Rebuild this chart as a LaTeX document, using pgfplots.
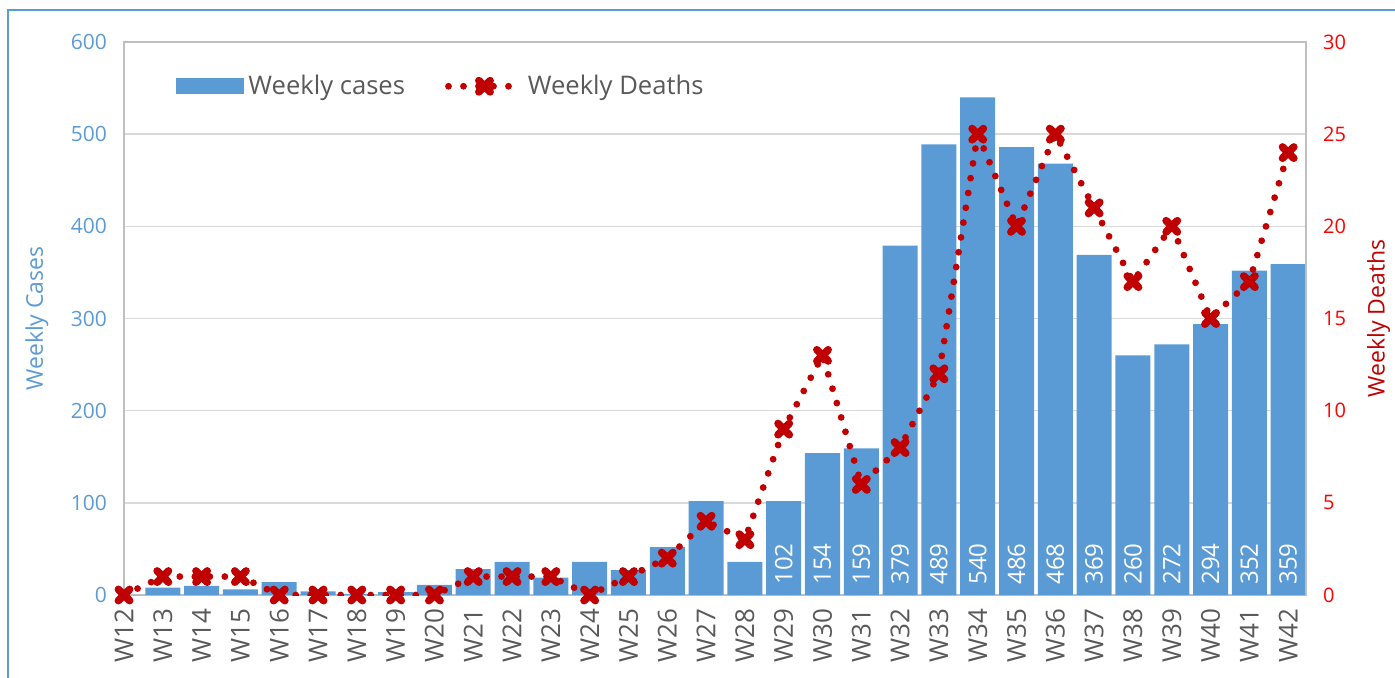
\documentclass[border=0pt]{standalone}
\usepackage{pgfplots}
\pgfplotsset{compat=1.18}
\usepackage{pgfplotstable}
\usepackage{fontspec}
\setmainfont{Open Sans}
\definecolor{barblue}{HTML}{5B9BD5}
\definecolor{deathred}{HTML}{C00000}
\definecolor{txtgray}{HTML}{595959}
\definecolor{gridgray}{HTML}{D9D9D9}
\definecolor{framegray}{HTML}{BFBFBF}

% weekly cases, W12 = 0 ... W42 = 30
\pgfplotstableread{
x y
0 0
1 8
2 10
3 6
4 14
5 4
6 1
7 3
8 11
9 28
10 36
11 19
12 36
13 27
14 52
15 102
16 36
17 102
18 154
19 159
20 379
21 489
22 540
23 486
24 468
25 369
26 260
27 272
28 294
29 352
30 359
}\cases

% labels written inside the bars
\pgfplotstableread{
x y lbl
17 0 102
18 0 154
19 0 159
20 0 379
21 0 489
22 0 540
23 0 486
24 0 468
25 0 369
26 0 260
27 0 272
28 0 294
29 0 352
30 0 359
}\caselabels

% weekly deaths
\pgfplotstableread{
x y
0 0
1 1
2 1
3 1
4 0
5 0
6 0
7 0
8 0
9 1
10 1
11 1
12 0
13 1
14 2
15 4
16 3
17 9
18 13
19 6
20 8
21 12
22 25
23 20
24 25
25 21
26 17
27 20
28 15
29 17
30 24
}\deaths

\tikzset{deathline/.style={deathred, line width=3.4pt, line cap=round, dash pattern=on 0pt off 7.5pt,
  mark=x, mark size=4pt, mark options={solid, line width=3.8pt, line cap=round}}}

\begin{document}
\begin{tikzpicture}
\begin{axis}[
    at={(0,0)}, anchor=south west,
    width=591pt, height=276.5pt, scale only axis,
    xmin=0, xmax=30.46, ymin=0, ymax=600,
    ytick={0,100,...,600},
    xtick={0,...,30},
    xticklabels={W12,W13,W14,W15,W16,W17,W18,W19,W20,W21,W22,W23,W24,W25,W26,W27,W28,W29,W30,W31,W32,W33,W34,W35,W36,W37,W38,W39,W40,W41,W42},
    x tick label style={rotate=90, anchor=east, inner xsep=6.5pt, font=\fontsize{13}{13}\selectfont, text=txtgray},
    y tick label style={font=\fontsize{10.5}{10.5}\selectfont, text=barblue, xshift=-5pt},
    /pgf/number format/assume math mode=true,
    ymajorgrids, grid style={gridgray, line width=0.8pt},
    axis line style={framegray, line width=1pt},
    major tick length=0pt,
    ylabel={Weekly Cases},
    ylabel style={at={(axis description cs:-0.0736,0.5)}, anchor=center, text=barblue, font=\fontsize{11.5}{11.5}\selectfont},
    legend style={at={(rel axis cs:0.039,0.92)}, anchor=west, draw=none, fill=none,
        font=\fontsize{12.8}{12.8}\selectfont, text=txtgray, legend columns=2,
        /tikz/every even column/.append style={column sep=18pt}},
]
\addplot[ybar, bar width=17.5pt, fill=barblue, draw=none,
    legend image code/.code={\fill[barblue] (0pt,-4pt) rectangle (34pt,4pt);}] table[x=x,y=y] {\cases};
\addlegendentry{Weekly cases}
\addlegendimage{deathline, legend image code/.code={\draw[mark repeat=2,mark phase=2] plot coordinates {(0pt,0pt) (18pt,0pt) (36pt,0pt)};}}
\addlegendentry{Weekly Deaths}
\addplot[draw=none, nodes near coords, point meta=explicit symbolic,
    every node near coord/.style={text=white, rotate=90, anchor=west, inner xsep=5pt, font=\fontsize{12}{12}\selectfont}]
    table[x=x,y=y,meta=lbl] {\caselabels};
\end{axis}
\begin{axis}[
    at={(0,0)}, anchor=south west,
    width=591pt, height=276.5pt, scale only axis,
    xmin=0, xmax=30.46, ymin=0, ymax=30,
    ytick={0,5,...,30},
    axis y line*=right, axis x line=none,
    axis line style={framegray, line width=1pt},
    major tick length=0pt,
    y tick label style={font=\fontsize{10}{10}\selectfont, text=red, xshift=5pt},
    /pgf/number format/assume math mode=true,
    ylabel={Weekly Deaths},
    ylabel style={at={(axis description cs:1.0615,0.5)}, anchor=center, text=deathred, font=\fontsize{11.5}{11.5}\selectfont},
]
\addplot[deathline] table[x=x,y=y] {\deaths};
\end{axis}
\pgfresetboundingbox
\path[use as bounding box] (-62pt,-41pt) rectangle (635.5pt,297.5pt);
\draw[barblue, line width=0.8pt] (-58pt,-45pt) -- (-58pt,292.5pt) -- (640pt,292.5pt);
\end{tikzpicture}
\end{document}
